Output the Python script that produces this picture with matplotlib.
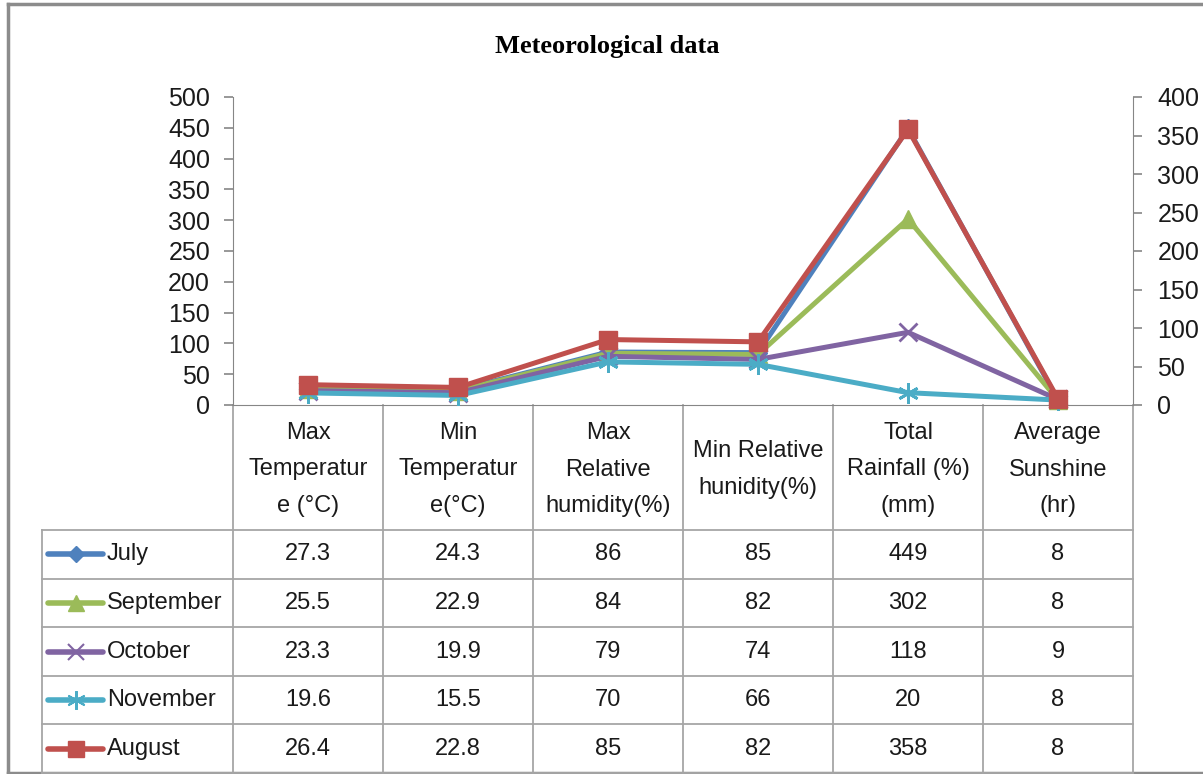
import matplotlib
matplotlib.use("Agg")
import matplotlib.pyplot as plt
from matplotlib import font_manager

# pick a narrow sans face if there is one
names = set(f.name for f in font_manager.fontManager.ttflist)
if "Liberation Sans Narrow" in names:
    plt.rcParams['font.family'] = ["Liberation Sans Narrow", "DejaVu Sans"]
    fs, tfs = 19, 20
else:
    plt.rcParams['font.family'] = ["Liberation Sans", "DejaVu Sans"]
    fs, tfs = 17, 18

# data
categories = ["Max\nTemperatur\ne (°C)", "Min\nTemperatur\ne(°C)",
              "Max\nRelative\nhumidity(%)", "Min Relative\nhunidity(%)",
              "Total\nRainfall (%)\n(mm)", "Average\nSunshine\n(hr)"]
months = ["July", "September", "October", "November", "August"]
july = [27.3, 24.3, 86, 85, 449, 8]
september = [25.5, 22.9, 84, 82, 302, 8]
october = [23.3, 19.9, 79, 74, 118, 9]
november = [19.6, 15.5, 70, 66, 20, 8]
august = [26.4, 22.8, 85, 82, 358, 8]
series = [july, september, october, november, august]
left_ticks = [0, 50, 100, 150, 200, 250, 300, 350, 400, 450, 500]
right_ticks = [0, 50, 100, 150, 200, 250, 300, 350, 400]

colors = ["#4F81BD", "#9BBB59", "#8064A2", "#4BACC6", "#C0504D"]
markers = ["D", "^", "x", (6, 2, 0), "s"]
msizes = [9, 13, 13, 15, 13]
on_right = [False, False, False, False, True]

W, H = 1203, 774
fig = plt.figure(figsize=(W / 100, H / 100), dpi=100)
grid_c = "#A6A6A6"
txt_c = "#1A1A1A"

# overlay in pixel units for frame and data table
ov = fig.add_axes([0, 0, 1, 1])
ov.set_xlim(0, W)
ov.set_ylim(H, 0)
ov.axis("off")

ov.plot([8, 8], [4, 773], color="#8C8C8C", lw=2.5)
ov.plot([8, W], [4, 4], color="#8C8C8C", lw=2.5)
ov.plot([8, W], [773, 773], color="#8C8C8C", lw=2.5)

x0, cw = 233, 150
leg_x = 42
head_top, head_bot = 405, 530
row_h = 48.6
n = len(categories)
row_edges = [head_bot + row_h * i for i in range(len(months) + 1)]

for i in range(n + 1):
    xx = x0 + cw * i
    ov.plot([xx, xx], [head_top, row_edges[-1]], color=grid_c, lw=1.3)
ov.plot([leg_x, leg_x], [head_bot, row_edges[-1]], color=grid_c, lw=1.3)
for yy in row_edges:
    ov.plot([leg_x, x0 + cw * n], [yy, yy], color=grid_c, lw=1.3)

for i, lab in enumerate(categories):
    ov.text(x0 + cw * i + cw / 2, (head_top + head_bot) / 2 + 2, lab,
            ha="center", va="center", fontsize=fs, linespacing=1.85,
            color=txt_c)

for r, (name, vals) in enumerate(zip(months, series)):
    yc = row_edges[r] + row_h / 2
    ov.plot([48, 103], [yc, yc], color=colors[r], lw=4, solid_capstyle="round")
    ov.plot([75.5], [yc], marker=markers[r], color=colors[r],
            markersize=msizes[r] * 0.9, mew=1.5 if r in (2, 3) else 1)
    ov.text(107, yc, name, ha="left", va="center", fontsize=fs, color=txt_c)
    for i, v in enumerate(vals):
        ov.text(x0 + cw * i + cw / 2, yc, f"{v:g}", ha="center", va="center",
                fontsize=fs, color=txt_c)

ov.text(607, 47, "Meteorological data", ha="center", va="center",
        fontsize=19, fontweight="bold", family="Liberation Serif")

# chart area
ax = fig.add_axes([x0 / W, (H - head_top) / H, cw * n / W, 308 / H])
ax.set_facecolor("none")
ax2 = ax.twinx()
xs = list(range(n))
for vals, c, m, ms, right in zip(series, colors, markers, msizes, on_right):
    tgt = ax2 if right else ax
    tgt.plot(xs, vals, color=c, lw=3.6, marker=m, markersize=ms,
             mew=2 if m in ("x", (6, 2, 0)) else 1, clip_on=False, zorder=3)

ax.set_xlim(-0.5, n - 0.5)
ax.set_ylim(0, 500)
ax2.set_ylim(0, 400)
ax.set_yticks(left_ticks)
ax2.set_yticks(right_ticks)
ax.set_xticks([])
for a in (ax, ax2):
    for s in a.spines.values():
        s.set_visible(False)
    a.tick_params(axis="y", labelsize=tfs, color="#868686", length=6.5,
                  width=1.2, pad=10, labelcolor=txt_c)
ax.spines["left"].set_visible(True)
ax.spines["left"].set_color("#868686")
ax2.spines["right"].set_visible(True)
ax2.spines["right"].set_color("#868686")
ax.spines["bottom"].set_visible(True)
ax.spines["bottom"].set_color("#868686")
ax2.tick_params(axis="y", pad=11)

fig.savefig("out.png", dpi=100)
